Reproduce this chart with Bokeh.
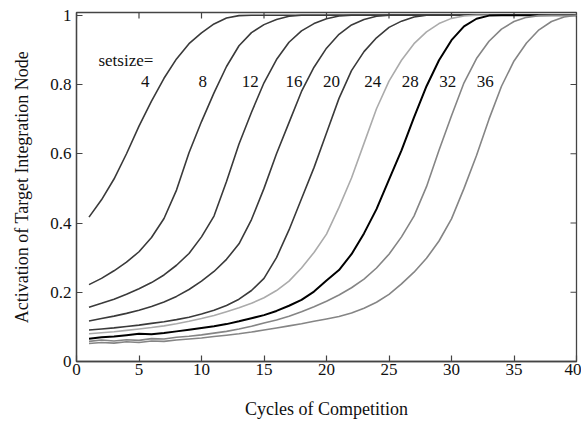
import math
from bokeh.plotting import figure
from bokeh.models import Range1d, FixedTicker, ColumnDataSource
from bokeh.embed import file_html
from bokeh.resources import INLINE
from bokeh.core.properties import value

FONT = "Liberation Serif"

cycles = list(range(1, 41))

set4 = [0.417, 0.467, 0.527, 0.600, 0.680, 0.752, 0.818, 0.874, 0.918, 0.949,
        0.975, 0.992, 0.999, 1.0, 1.0, 1.0, 1.0, 1.0, 1.0, 1.0,
        1.0, 1.0, 1.0, 1.0, 1.0, 1.0, 1.0, 1.0, 1.0, 1.0,
        1.0, 1.0, 1.0, 1.0, 1.0, 1.0, 1.0, 1.0, 1.0, 1.0]
set8 = [0.222, 0.240, 0.262, 0.287, 0.317, 0.358, 0.413, 0.495, 0.603, 0.693,
        0.776, 0.852, 0.912, 0.950, 0.973, 0.988, 0.997, 1.0, 1.0, 1.0,
        1.0, 1.0, 1.0, 1.0, 1.0, 1.0, 1.0, 1.0, 1.0, 1.0,
        1.0, 1.0, 1.0, 1.0, 1.0, 1.0, 1.0, 1.0, 1.0, 1.0]
set12 = [0.157, 0.168, 0.180, 0.194, 0.210, 0.228, 0.250, 0.278, 0.312, 0.360,
         0.420, 0.520, 0.628, 0.720, 0.805, 0.872, 0.922, 0.955, 0.976, 0.990,
         0.998, 1.0, 1.0, 1.0, 1.0, 1.0, 1.0, 1.0, 1.0, 1.0,
         1.0, 1.0, 1.0, 1.0, 1.0, 1.0, 1.0, 1.0, 1.0, 1.0]
set16 = [0.117, 0.124, 0.131, 0.139, 0.148, 0.159, 0.172, 0.188, 0.208, 0.232,
         0.260, 0.295, 0.340, 0.410, 0.500, 0.600, 0.690, 0.780, 0.850, 0.905,
         0.945, 0.972, 0.988, 0.997, 1.0, 1.0, 1.0, 1.0, 1.0, 1.0,
         1.0, 1.0, 1.0, 1.0, 1.0, 1.0, 1.0, 1.0, 1.0, 1.0]
set20 = [0.091, 0.094, 0.097, 0.101, 0.105, 0.110, 0.115, 0.121, 0.128, 0.137,
         0.148, 0.162, 0.180, 0.205, 0.240, 0.300, 0.380, 0.470, 0.560, 0.660,
         0.760, 0.840, 0.895, 0.935, 0.965, 0.983, 0.995, 1.0, 1.0, 1.0,
         1.0, 1.0, 1.0, 1.0, 1.0, 1.0, 1.0, 1.0, 1.0, 1.0]
set24 = [0.080, 0.083, 0.086, 0.090, 0.094, 0.098, 0.103, 0.109, 0.116, 0.124,
         0.133, 0.144, 0.155, 0.168, 0.184, 0.205, 0.232, 0.270, 0.315, 0.368,
         0.445, 0.530, 0.630, 0.730, 0.810, 0.870, 0.918, 0.952, 0.976, 0.991,
         0.998, 1.0, 1.0, 1.0, 1.0, 1.0, 1.0, 1.0, 1.0, 1.0]
set28 = [0.066, 0.070, 0.072, 0.076, 0.080, 0.079, 0.082, 0.087, 0.092, 0.097,
         0.102, 0.108, 0.116, 0.125, 0.134, 0.146, 0.161, 0.178, 0.202, 0.234,
         0.264, 0.310, 0.370, 0.440, 0.525, 0.610, 0.705, 0.795, 0.870, 0.928,
         0.968, 0.990, 0.999, 1.0, 1.0, 1.0, 1.0, 1.0, 1.0, 1.0]
set32 = [0.058, 0.062, 0.059, 0.063, 0.061, 0.066, 0.065, 0.070, 0.073, 0.077,
         0.082, 0.087, 0.094, 0.102, 0.111, 0.120, 0.131, 0.144, 0.158, 0.174,
         0.192, 0.213, 0.238, 0.270, 0.310, 0.360, 0.420, 0.505, 0.610, 0.710,
         0.805, 0.875, 0.925, 0.960, 0.982, 0.994, 0.999, 1.0, 1.0, 1.0]
set36 = [0.052, 0.055, 0.053, 0.057, 0.055, 0.059, 0.058, 0.062, 0.065, 0.068,
         0.072, 0.076, 0.080, 0.085, 0.091, 0.097, 0.103, 0.109, 0.116, 0.123,
         0.130, 0.140, 0.154, 0.171, 0.194, 0.224, 0.258, 0.298, 0.348, 0.412,
         0.500, 0.595, 0.700, 0.795, 0.868, 0.920, 0.958, 0.982, 0.995, 1.0]

series = [set4, set8, set12, set16, set20, set24, set28, set32, set36]
series_colors = ["#3a3a3a", "#3a3a3a", "#3a3a3a", "#3a3a3a", "#3a3a3a",
                 "#ababab", "#000000", "#858585", "#858585"]
series_widths = [1.6, 1.6, 1.6, 1.6, 1.6, 1.6, 2.0, 1.6, 1.6]

label_text = ["4", "8", "12", "16", "20", "24", "28", "32", "36"]
label_x = [5.5, 10.1, 13.9, 17.4, 20.4, 23.7, 26.7, 29.7, 32.7]
label_y = [0.81] * 9
title_text = ["setsize="]
title_x = [3.95]
title_y = [0.87]

x_ticks = [0, 5, 10, 15, 20, 25, 30, 35, 40]
y_ticks = [0, 0.2, 0.4, 0.6, 0.8, 1]
y_tick_labels = {0: "0", 0.2: "0.2", 0.4: "0.4", 0.6: "0.6", 0.8: "0.8", 1: "1"}

X_MIN, X_MAX = 0, 40
Y_MIN, Y_MAX = 0, 1.008

AX = "#444444"

p = figure(output_backend="svg", toolbar_location=None,
           x_range=Range1d(X_MIN, X_MAX), y_range=Range1d(Y_MIN, Y_MAX),
           frame_width=500, frame_height=349,
           min_border_left=76, min_border_right=5, min_border_top=12, min_border_bottom=61,
           x_axis_label="Cycles of Competition",
           y_axis_label="Activation of Target Integration Node")
p.xgrid.visible = False
p.ygrid.visible = False
p.outline_line_color = AX
p.outline_line_width = 1.3
p.background_fill_color = "white"
p.border_fill_color = "white"

p.xaxis.ticker = FixedTicker(ticks=x_ticks)
p.yaxis.ticker = FixedTicker(ticks=y_ticks)
p.yaxis.major_label_overrides = y_tick_labels

for ax in list(p.xaxis) + list(p.yaxis):
    ax.major_tick_in = 6
    ax.major_tick_out = 0
    ax.minor_tick_in = 0
    ax.minor_tick_out = 0
    ax.axis_line_color = AX
    ax.axis_line_width = 1.3
    ax.major_tick_line_color = AX
    ax.major_tick_line_width = 1.2
    ax.major_label_text_font = FONT
    ax.major_label_text_font_size = "17px"
    ax.major_label_text_color = "#111111"
    ax.axis_label_text_font = FONT
    ax.axis_label_text_font_size = "18px"
    ax.axis_label_text_font_style = "normal"
    ax.axis_label_text_color = "#111111"

p.xaxis.major_label_standoff = 2
p.xaxis.axis_label_standoff = 21
p.yaxis.major_label_standoff = 5
p.yaxis.axis_label_standoff = 15

# mirrored inward ticks on the top and right edges of the box
p.ray(x=x_ticks, y=[Y_MAX] * len(x_ticks), length=6, length_units="screen",
      angle=-math.pi / 2, line_color=AX, line_width=1.2)
p.ray(x=[X_MAX] * len(y_ticks), y=y_ticks, length=6, length_units="screen",
      angle=math.pi, line_color=AX, line_width=1.2)

for vals, col, w in zip(series, series_colors, series_widths):
    xs = cycles[:len(vals)]
    p.line(xs, vals, line_color=col, line_width=w)

src = ColumnDataSource(dict(x=label_x, y=label_y, t=label_text))
p.text(x="x", y="y", text="t", source=src, text_font=value(FONT),
       text_font_size=value("17px"), text_align="center", text_baseline="middle",
       text_color="#111111")
src2 = ColumnDataSource(dict(x=title_x, y=title_y, t=title_text))
p.text(x="x", y="y", text="t", source=src2, text_font=value(FONT),
       text_font_size=value("17px"), text_align="center", text_baseline="middle",
       text_color="#111111")

open("out.html", "w").write(file_html(p, INLINE))
